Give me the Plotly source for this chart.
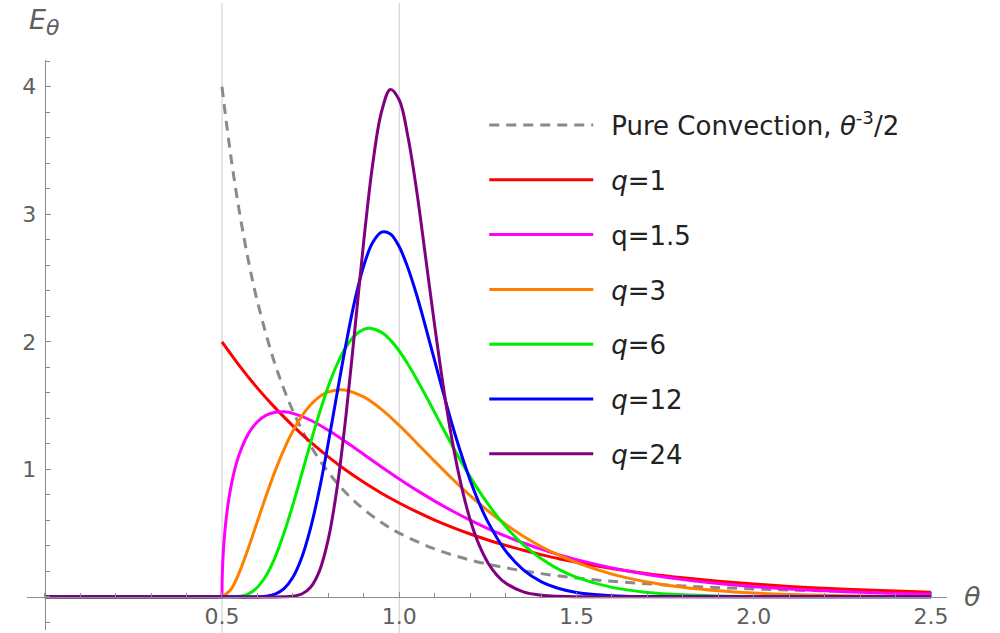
import plotly.graph_objects as go

# ---------------- data ----------------
conv_theta = [0.5, 0.525, 0.55, 0.575, 0.6, 0.65, 0.7, 0.75, 0.8, 0.85, 0.9, 0.95, 1.0,
              1.1, 1.2, 1.3, 1.4, 1.5, 1.6, 1.8, 2.0, 2.2, 2.5]
conv_E = [4.0, 3.455, 3.005, 2.630, 2.315, 1.821, 1.458, 1.185, 0.977, 0.814, 0.686, 0.583, 0.500,
          0.376, 0.289, 0.228, 0.182, 0.148, 0.122, 0.0857, 0.0625, 0.047, 0.032]

# None marks the break between the zero baseline and the curve (jump / corner at 0.5)
q1_theta = [0, 0.5, 0.5, 0.5, 0.55, 0.6, 0.65, 0.7, 0.75, 0.8, 0.85, 0.9, 0.95, 1.0,
            1.05, 1.1, 1.15, 1.2, 1.25, 1.3, 1.35, 1.4, 1.45, 1.5,
            1.6, 1.7, 1.8, 1.9, 2.0, 2.1, 2.2, 2.3, 2.4, 2.5]
q1_E = [0, 0, None, 2.0, 1.810, 1.637, 1.482, 1.341, 1.213, 1.098, 0.993, 0.899, 0.813, 0.736,
        0.666, 0.602, 0.545, 0.493, 0.446, 0.404, 0.365, 0.331, 0.299, 0.271,
        0.222, 0.181, 0.149, 0.122, 0.100, 0.082, 0.067, 0.055, 0.045, 0.037]

q15_theta = [0, 0.5, 0.5, 0.5, 0.5005, 0.502, 0.505, 0.51, 0.52, 0.535, 0.55, 0.575, 0.6, 0.625,
             0.65, 0.675, 0.7,
             0.75, 0.8, 0.85, 0.9, 0.95, 1.0, 1.05, 1.1, 1.15, 1.2, 1.25, 1.3, 1.35, 1.4, 1.45, 1.5,
             1.6, 1.7, 1.8, 1.9, 2.0, 2.1, 2.2, 2.3, 2.4, 2.5]
q15_E = [0, 0, None, 0, 0.131, 0.261, 0.408, 0.569, 0.781, 0.988, 1.128, 1.282, 1.373, 1.425,
         1.448, 1.451, 1.439,
         1.385, 1.306, 1.214, 1.117, 1.019, 0.925, 0.835, 0.751, 0.673, 0.601, 0.535, 0.476,
         0.422, 0.374, 0.330, 0.292,
         0.227, 0.175, 0.135, 0.104, 0.080, 0.061, 0.047, 0.036, 0.027, 0.021]

q3_theta = [0, 0.5, 0.5, 0.5, 0.525, 0.55, 0.575, 0.6, 0.625, 0.65, 0.675,
            0.7, 0.725, 0.75, 0.775, 0.8, 0.833, 0.85,
            0.9, 0.95, 1.0, 1.05, 1.1, 1.15, 1.2, 1.25, 1.3, 1.35, 1.4, 1.45, 1.5,
            1.6, 1.7, 1.8, 1.9, 2.0, 2.1, 2.2, 2.3, 2.4, 2.5]
q3_E = [0, 0, None, 0, 0.058, 0.200, 0.387, 0.593, 0.797, 0.988, 1.157,
        1.301, 1.417, 1.506, 1.569, 1.607, 1.624, 1.620,
        1.568, 1.470, 1.344, 1.205, 1.062, 0.924, 0.794, 0.675, 0.569, 0.476, 0.395, 0.327, 0.268,
        0.178, 0.116, 0.0748, 0.0476, 0.030, 0.0187, 0.0116, 0.0071, 0.0044, 0.0027]

q6_theta = [0, 0.5,
            0.55, 0.575, 0.6, 0.625, 0.65, 0.675, 0.7, 0.725, 0.75, 0.775, 0.8, 0.825, 0.85,
            0.875, 0.9, 0.917, 0.95, 0.975, 1.0, 1.025, 1.05, 1.075,
            1.1, 1.15, 1.2, 1.25, 1.3, 1.35, 1.4, 1.45, 1.5,
            1.6, 1.7, 1.8, 1.9, 2.0, 2.5]
q6_E = [0, 0,
        0.0043, 0.024, 0.0749, 0.169, 0.312, 0.500, 0.722, 0.964, 1.210, 1.443, 1.652, 1.826, 1.960,
        2.050, 2.097, 2.106, 2.074, 2.013, 1.928, 1.822, 1.703, 1.576,
        1.445, 1.183, 0.941, 0.729, 0.552, 0.410, 0.300, 0.215, 0.153,
        0.0742, 0.0345, 0.0155, 0.0068, 0.0029, 0]

q12_theta = [0, 0.5,
             0.6, 0.625, 0.65, 0.675, 0.7, 0.725, 0.75, 0.775, 0.8, 0.825, 0.85, 0.875, 0.9,
             0.925, 0.95, 0.975, 1.0, 1.025, 1.05, 1.075, 1.1, 1.125,
             1.15, 1.175, 1.2, 1.225, 1.25, 1.3, 1.35, 1.4, 1.45, 1.5,
             1.6, 1.7, 2.5]
q12_E = [0, 0,
         0.0008, 0.0053, 0.0216, 0.0646, 0.154, 0.309, 0.541, 0.846, 1.210, 1.602, 1.986, 2.329, 2.599,
         2.778, 2.860, 2.846, 2.745, 2.575, 2.359, 2.110, 1.850, 1.591,
         1.344, 1.118, 0.915, 0.738, 0.588, 0.360, 0.212, 0.119, 0.0652, 0.0345,
         0.0089, 0.0021, 0]

q24_theta = [0, 0.5,
             0.675, 0.7, 0.725, 0.75, 0.775, 0.8, 0.825, 0.85, 0.875, 0.9, 0.925, 0.95, 0.975,
             1.0, 1.025, 1.05, 1.075, 1.1, 1.125, 1.15, 1.175, 1.2, 1.225,
             1.25, 1.275, 1.3, 1.35, 1.4, 1.45, 1.5, 2.5]
q24_E = [0, 0,
         0.00075, 0.0049, 0.0222, 0.0756, 0.204, 0.454, 0.862, 1.429, 2.104, 2.793, 3.391, 3.804, 3.979,
         3.896, 3.600, 3.168, 2.649, 2.125, 1.636, 1.214, 0.872, 0.605, 0.409,
         0.268, 0.172, 0.108, 0.0393, 0.0133, 0.0042, 0.0012, 0]

series_names = ["Pure Convection, <i>θ</i><sup>-3</sup>/2", "<i>q</i>=1", "q=1.5",
                "<i>q</i>=3", "<i>q</i>=6", "<i>q</i>=12", "<i>q</i>=24"]
series_colors = ["#8a8a8a", "#ff0000", "#ff00ff", "#ff8000", "#00ee00", "#0000ff", "#800080"]

x_ticks = [0.5, 1.0, 1.5, 2.0, 2.5]
y_ticks = [1, 2, 3, 4]
grid_x = [0.5, 1.0]

# ---------------- figure ----------------
x_range = [-0.05, 2.545]
y_range = [-0.26, 4.21]

series = [(conv_theta, conv_E), (q1_theta, q1_E), (q15_theta, q15_E), (q3_theta, q3_E),
          (q6_theta, q6_E), (q12_theta, q12_E), (q24_theta, q24_E)]

fig = go.Figure()
for i, ((tx, ty), name, col) in enumerate(zip(series, series_names, series_colors)):
    fig.add_trace(go.Scatter(
        x=tx, y=ty, mode="lines", name="\u2002" + name,
        legendgroup=f"g{i}",
        line=dict(color=col, width=3, dash="10px,7px" if i == 0 else "solid",
                  shape="spline", smoothing=1.0),
        connectgaps=False, hoverinfo="skip",
    ))

tick_family = "DejaVu Sans, Arial, sans-serif"
axis_col = "#8c8c8c"
lab_col = "#5f5f5f"

xpos = (0 - y_range[0]) / (y_range[1] - y_range[0])
ypos = (0 - x_range[0]) / (x_range[1] - x_range[0])

fig.update_layout(
    width=1000, height=633,
    margin=dict(l=27, r=53, t=60, b=3),
    paper_bgcolor="white", plot_bgcolor="white",
    font=dict(family=tick_family, size=22, color=lab_col),
    showlegend=True,
    legend=dict(x=0.497, y=0.927, xanchor="left", yanchor="top",
                font=dict(family=tick_family, size=26, color="#222222"),
                itemwidth=104, tracegroupgap=18, bgcolor="rgba(0,0,0,0)",
                traceorder="grouped"),
    xaxis=dict(range=x_range, anchor="free", position=xpos,
               showline=True, linecolor=axis_col, linewidth=1,
               showgrid=False, zeroline=False,
               tickmode="array", tickvals=x_ticks, tickformat=".1f",
               ticks="inside", ticklen=5, tickcolor=axis_col,
               minor=dict(tickmode="linear", tick0=0, dtick=0.1, ticks="inside",
                          ticklen=4, tickcolor=axis_col),
               tickfont=dict(size=22, color=lab_col)),
    yaxis=dict(range=y_range, anchor="free", position=ypos,
               showline=True, linecolor=axis_col, linewidth=1,
               showgrid=False, zeroline=False,
               tickmode="array", tickvals=y_ticks,
               ticks="inside", ticklen=5, tickcolor=axis_col, ticklabelstandoff=4,
               minor=dict(tickmode="linear", tick0=0, dtick=0.2, ticks="inside",
                          ticklen=4, tickcolor=axis_col),
               tickfont=dict(size=22, color=lab_col)),
)

for gx in grid_x:
    fig.add_shape(type="line", xref="x", yref="paper", x0=gx, x1=gx, y0=-0.01, y1=1.1,
                  line=dict(color="#cccccc", width=1), layer="below")

fig.add_annotation(x=0, xref="x", y=1, yref="paper", yanchor="bottom", xanchor="center",
                   yshift=18, showarrow=False,
                   text="<i>E</i><sub><span style='font-size:22px'><i>θ</i></span></sub>",
                   font=dict(family=tick_family, size=27, color=lab_col))
fig.add_annotation(x=1, xref="paper", y=0, yref="y", xanchor="left", yanchor="middle",
                   xshift=15, showarrow=False,
                   text="<i>θ</i>", font=dict(family=tick_family, size=27, color=lab_col))

fig.write_html("out.html")
